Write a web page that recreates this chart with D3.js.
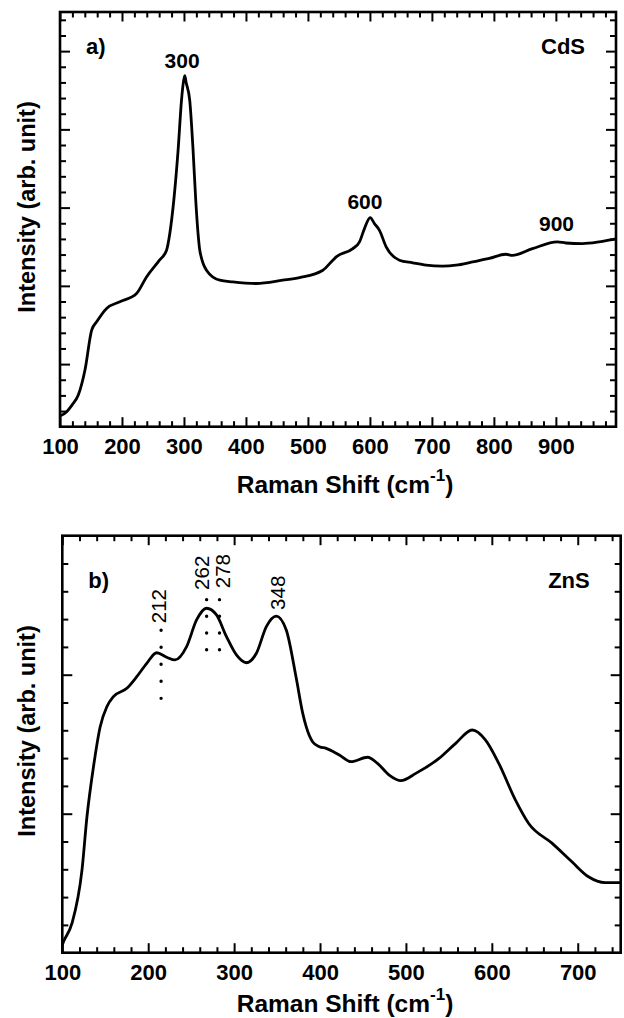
<!DOCTYPE html>
<html>
<head>
<meta charset="utf-8">
<script src="https://cdn.jsdelivr.net/npm/d3@7"></script>
<style>
body { margin: 0; background: #fff; }
text { font-family: "Liberation Sans", Arial, sans-serif; fill: #000; }
</style>
</head>
<body>
<svg id="chart" width="624" height="1018"></svg>
<script>
// a) CdS spectrum - Raman shift (cm-1) vs intensity (arb. unit)
var cdsShift = [100, 110.8, 119.3, 129.5, 140.3, 151.1, 159.1, 175.2, 196.6, 223.5, 239.6, 260.5, 271.9, 277.2,
  283.6, 290.5, 296, 299, 301.3, 303.5, 309.3, 314.7, 319, 322.7, 325.5, 336.3, 357.7, 378.6, 416.8, 459.2,
  486.5, 524.1, 540.2, 545.6, 572.4, 583.2, 591.2, 600.4, 607.3, 615.4, 626.2, 647.6, 669, 690.6, 717.3, 738.9,
  765.6, 792.5, 819.4, 830, 862.3, 902.5, 916, 942.8, 969.7, 991.1, 997];
var cdsIntensity = [-3.32, -3.04, -2.62, -1.98, -0.38, 2.17, 2.7, 3.56, 3.98, 4.51, 5.57, 6.64, 7.28, 8.36,
  10.47, 13.66, 16.85, 18.0, 18.44, 18.0, 16.85, 13.66, 10.47, 8.36, 7.28, 6.0, 5.36, 5.25, 5.15, 5.36,
  5.53, 6.0, 6.64, 6.85, 7.38, 7.81, 8.66, 9.36, 8.98, 8.55, 7.49, 6.64, 6.47, 6.32, 6.26, 6.32,
  6.53, 6.75, 7.02, 6.95, 7.38, 7.81, 7.74, 7.7, 7.81, 7.96, 8.0];
var cdsPeaks = ["300", "600", "900"];
var cdsPeakX = [297, 592, 901];
var cdsPeakY = [18.9, 9.9, 8.5];

// b) ZnS spectrum
var znsShift = [100, 101.5, 111.3, 122.9, 128.7, 136.3, 144.1, 151.9, 159.5, 175.1, 186.7, 198.3, 209.9, 221.5,
  231.1, 244.7, 256.3, 267.9, 279.5, 291.1, 302.7, 314.3, 325.9, 337.5, 349.1, 360.7, 372.3, 379.9, 383.9,
  391.5, 399.3, 407.1, 422.5, 436.1, 455.3, 466.9, 480.5, 494.1, 511.5, 538.5, 557.9, 577.1, 592.7, 608.1,
  627.5, 642.9, 670, 693.2, 712.5, 731.9, 750];
var znsIntensity = [0.28, 0.4, 1.06, 2.97, 4.89, 6.69, 8.13, 8.85, 9.21, 9.51, 9.93, 10.41, 10.79, 10.63,
  10.53, 11.01, 11.97, 12.39, 12.15, 11.37, 10.71, 10.43, 10.77, 11.73, 12.11, 11.61, 9.88, 8.61, 8.13,
  7.58, 7.41, 7.35, 7.11, 6.87, 7.03, 6.81, 6.39, 6.19, 6.45, 6.99, 7.53, 8.01, 7.65, 6.81,
  5.49, 4.65, 3.94, 3.27, 2.73, 2.52, 2.52];
var znsPeaks = ["212", "262", "278", "348"];
var znsPeakX = [212, 262, 286, 351];
var znsPeakY = [11.85, 13.05, 13.11, 12.33];
var znsDotX = [215, 268, 283];
var znsDotTop = [11.6, 12.7, 12.7];
var znsDotBottom = [9.15, 10.3, 10.3];

var svg = d3.select("#chart");

function drawPanel(p) {
  var g = svg.append("g").attr("transform", "translate(" + p.left + "," + p.top + ")");
  var x = d3.scaleLinear().domain(p.xDomain).range([0, p.width]);
  var y = d3.scaleLinear().domain(p.yDomain).range([p.height, 0]);

  // ticks, all pointing inward
  function addAxis(axis, tr, size) {
    var a = g.append("g").attr("transform", tr).call(axis.tickSize(size));
    a.select(".domain").remove();
    a.selectAll(".tick line").attr("stroke", "#000").attr("stroke-width", 2);
    return a;
  }
  var bottom = d3.axisBottom(x).tickValues(p.xMajor).tickPadding(11.5).tickFormat(d3.format("d"));
  var ba = addAxis(bottom, "translate(0," + p.height + ")", -9.5);
  ba.selectAll("text").attr("font-size", 22).attr("font-weight", "bold").attr("fill", "#000");
  addAxis(d3.axisBottom(x).tickValues(p.xMinor).tickFormat(""), "translate(0," + p.height + ")", -5.5);
  addAxis(d3.axisTop(x).tickValues(p.xMajor).tickFormat(""), "translate(0,0)", -9.5);
  addAxis(d3.axisTop(x).tickValues(p.xMinor).tickFormat(""), "translate(0,0)", -5.5);
  addAxis(d3.axisLeft(y).tickValues(p.yMajor).tickFormat(""), "translate(0,0)", -10);
  addAxis(d3.axisLeft(y).tickValues(p.yMinor).tickFormat(""), "translate(0,0)", -6);
  addAxis(d3.axisRight(y).tickValues(p.yMajor).tickFormat(""), "translate(" + p.width + ",0)", -10);
  addAxis(d3.axisRight(y).tickValues(p.yMinor).tickFormat(""), "translate(" + p.width + ",0)", -6);

  g.append("rect")
    .attr("width", p.width).attr("height", p.height)
    .attr("fill", "none").attr("stroke", "#000").attr("stroke-width", 2.6);

  var line = d3.line()
    .x(function(d, i) { return x(p.xs[i]); })
    .y(function(d, i) { return y(p.ys[i]); })
    .curve(d3.curveMonotoneX);
  g.append("path")
    .attr("d", line(p.xs))
    .attr("fill", "none").attr("stroke", "#000").attr("stroke-width", 2.8)
    .attr("stroke-linejoin", "round");

  // panel letter and sample name
  g.append("text").attr("x", 26).attr("y", p.labelY).attr("font-size", 22).attr("font-weight", "bold").text(p.letter);
  g.append("text").attr("x", p.width - 31).attr("y", p.labelY).attr("text-anchor", "end")
    .attr("font-size", 22).attr("font-weight", "bold").text(p.name);

  // axis titles
  var xt = svg.append("text").attr("x", 345).attr("y", p.titleY).attr("text-anchor", "middle")
    .attr("font-size", 24.5).attr("font-weight", "bold");
  xt.append("tspan").text("Raman Shift (cm");
  xt.append("tspan").attr("dy", -12).attr("font-size", 17).text("-1");
  xt.append("tspan").attr("dy", 12).text(")");

  svg.append("text")
    .attr("transform", "translate(35," + p.yTitleC + ") rotate(-90)")
    .attr("text-anchor", "middle").attr("font-size", 23.5).attr("font-weight", "bold")
    .text("Intensity (arb. unit)");

  return {g: g, x: x, y: y};
}

var a = drawPanel({
  left: 60, top: 12, width: 556, height: 414.7,
  xDomain: [100, 997], yDomain: [-4, 22.5],
  xMajor: d3.range(100, 901, 100), xMinor: d3.range(120, 997, 20).filter(function(v) { return v % 100; }),
  yMajor: [0, 5, 10, 15, 20], yMinor: d3.range(-3, 23, 1).filter(function(v) { return v % 5; }),
  xs: cdsShift, ys: cdsIntensity,
  letter: "a)", name: "CdS", labelY: 42, titleY: 493, yTitleC: 207
});
a.g.selectAll(".peak").data(cdsPeaks).enter().append("text")
  .attr("x", function(d, i) { return a.x(cdsPeakX[i]); })
  .attr("y", function(d, i) { return a.y(cdsPeakY[i]); })
  .attr("text-anchor", "middle").attr("font-size", 21).attr("font-weight", "bold")
  .text(function(d) { return d; });

var b = drawPanel({
  left: 62.3, top: 535.7, width: 558.4, height: 417,
  xDomain: [100, 750], yDomain: [0, 15],
  xMajor: d3.range(100, 701, 100), xMinor: d3.range(120, 750, 20).filter(function(v) { return v % 100; }),
  yMajor: [5, 10], yMinor: d3.range(1, 15, 1).filter(function(v) { return v % 5; }),
  xs: znsShift, ys: znsIntensity,
  letter: "b)", name: "ZnS", labelY: 52, titleY: 1012, yTitleC: 731
});

// dotted guides under the peak labels
b.g.selectAll(".guide").data(znsDotX).enter().append("line")
  .attr("x1", function(d) { return b.x(d); }).attr("x2", function(d) { return b.x(d); })
  .attr("y1", function(d, i) { return b.y(znsDotTop[i]); })
  .attr("y2", function(d, i) { return b.y(znsDotBottom[i]); })
  .attr("stroke", "#000").attr("stroke-width", 3.4).attr("stroke-linecap", "round")
  .attr("stroke-dasharray", function(d, i) {
    var len = b.y(znsDotBottom[i]) - b.y(znsDotTop[i]);
    return "0," + (len / 4);
  });

b.g.selectAll(".peak").data(znsPeaks).enter().append("text")
  .attr("transform", function(d, i) {
    return "translate(" + b.x(znsPeakX[i]) + "," + b.y(znsPeakY[i]) + ") rotate(-90)";
  })
  .attr("dominant-baseline", "central").attr("font-size", 20.5)
  .text(function(d) { return d; });
</script>
</body>
</html>
